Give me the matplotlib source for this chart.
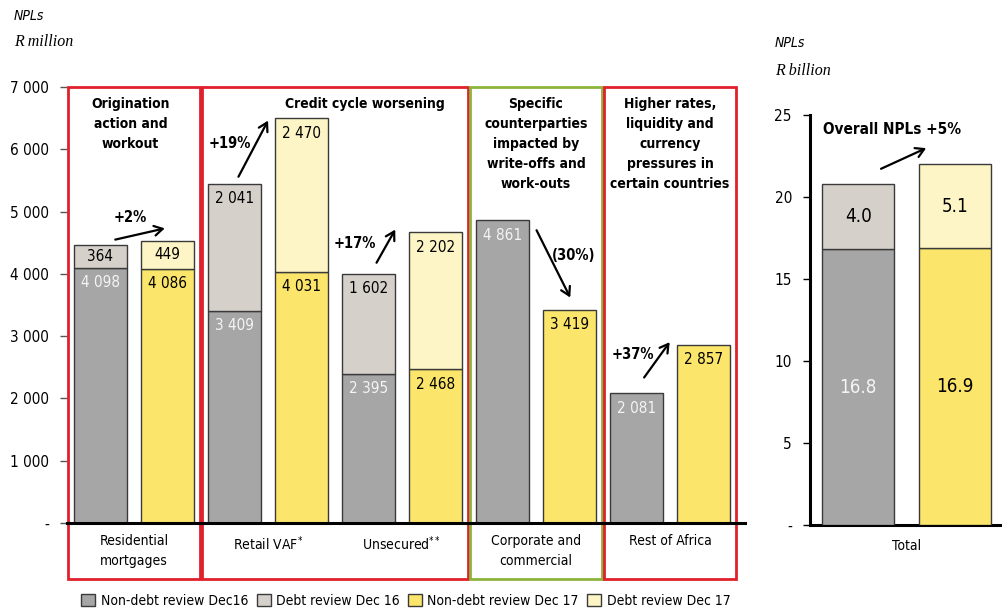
import matplotlib
matplotlib.use("Agg")
import matplotlib.pyplot as plt
from matplotlib.patches import Rectangle, Patch
from matplotlib.ticker import FuncFormatter
from matplotlib import font_manager

# look for a condensed/narrow sans (the reference uses Arial Narrow)
narrow = None
for f in font_manager.fontManager.ttflist:
    if f.name == "Liberation Sans Narrow":
        narrow = ("Liberation Sans Narrow", "normal")
        break
if narrow is None:
    for f in font_manager.fontManager.ttflist:
        if f.name in ("DejaVu Sans", "Noto Sans", "Open Sans", "Roboto") and str(f.stretch) in ("condensed", "semi-condensed", "600", "700", "750"):
            narrow = (f.name, f.stretch)
            break
if narrow is None:
    narrow = ("Roboto", "normal")
plt.rcParams["font.family"] = [narrow[0], "DejaVu Sans"]
plt.rcParams["font.stretch"] = narrow[1]

# ---- data ----
bar_positions = list(range(10))
non_debt = [4098, 4086, 3409, 4031, 2395, 2468, 4861, 3419, 2081, 2857]
debt = [364, 449, 2041, 2470, 1602, 2202, 0, 0, 0, 0]
is_dec17 = [False, True] * 5

categories = ["Residential\nmortgages", "Retail VAF$^{*}$", "Unsecured$^{**}$",
              "Corporate and\ncommercial", "Rest of Africa"]
category_x = [0.5, 2.5, 4.5, 6.5, 8.5]

groups = [(0, 1), (2, 5), (6, 7), (8, 9)]
group_titles = ["Origination\naction and\nworkout", "Credit cycle worsening",
                "Specific\ncounterparties\nimpacted by\nwrite-offs and\nwork-outs",
                "Higher rates,\nliquidity and\ncurrency\npressures in\ncertain countries"]
group_title_x = [0.45, 3.94, 6.5, 8.5]
group_colors = ["#E0202A", "#E0202A", "#8DB33A", "#E0202A"]

# change arrows: (tail x, tail y, head x, head y, label, label x, label y)
changes = [
    (0.18, 4540, 1.0, 4740, "+2%", 0.45, 4900),
    (2.04, 5520, 2.52, 6500, "+19%", 1.93, 6100),
    (4.10, 4140, 4.42, 4750, "+17%", 3.79, 4480),
    (6.49, 4740, 7.03, 3580, "(30%)", 7.06, 4300),
    (8.09, 2300, 8.52, 2940, "+37%", 7.94, 2700),
]

total_x = [0, 1]
total_non_debt = [16.8, 16.9]
total_debt = [4.0, 5.1]
total_change = (0.21, 21.65, 0.73, 23.05, "Overall NPLs +5%", 0.35, 24.1)

C_ND16 = "#A6A6A6"
C_D16 = "#D6D0CA"
C_ND17 = "#FBE56B"
C_D17 = "#FDF5C5"
EDGE = "#3A3A3A"
FS = 10.5


def space_thousands(v, pos=None):
    if v == 0:
        return "-"
    return f"{v:,.0f}".replace(",", " ")


fig = plt.figure(figsize=(10.03, 6.13), dpi=100)

# ---- left chart ----
ax = fig.add_axes([67 / 1003, 1 - 523 / 613, (745 - 67) / 1003, 436 / 613])
width = 0.8
for x, nd, d, d17 in zip(bar_positions, non_debt, debt, is_dec17):
    ax.bar(x, nd, width, color=C_ND17 if d17 else C_ND16, edgecolor=EDGE, linewidth=1, zorder=3)
    if d:
        ax.bar(x, d, width, bottom=nd, color=C_D17 if d17 else C_D16, edgecolor=EDGE, linewidth=1, zorder=3)
    ax.text(x, nd - min(240, nd / 2), space_thousands(nd), ha="center", va="center",
            fontsize=FS + 0.5, color="black" if d17 else "#F4F4F4", zorder=4)
    if d:
        ax.text(x, nd + d - min(240, d / 2), space_thousands(d), ha="center", va="center",
                fontsize=FS + 0.5, color="black", zorder=4)

ax.set_xlim(-0.5, 9.62)
ax.set_ylim(0, 7000)
ax.set_yticks(range(0, 7001, 1000))
ax.yaxis.set_major_formatter(FuncFormatter(space_thousands))
ax.set_xticks([])
ax.tick_params(axis="y", length=5, width=1, color="#555555", labelsize=FS + 0.5, pad=8)
for s in ["top", "right", "left"]:
    ax.spines[s].set_visible(False)
ax.spines["bottom"].set_linewidth(2.2)
ax.spines["bottom"].set_zorder(5)

# group boxes
pad = 0.02
for (a, b), col in zip(groups, group_colors):
    r = Rectangle((a - 0.5 + pad, -900), b - a + 1 - 2 * pad, 7900, fill=False,
                  edgecolor=col, linewidth=2, clip_on=False, zorder=2)
    ax.add_patch(r)
for t, x in zip(group_titles, group_title_x):
    ax.annotate(t, (x, 7000), xytext=(0, -7), textcoords="offset points",
                ha="center", va="top", fontsize=10, fontweight="bold", linespacing=1.55)

for lab, x in zip(categories, category_x):
    ax.annotate(lab, (x, 0), xytext=(0, -8), textcoords="offset points",
                ha="center", va="top", fontsize=10, linespacing=1.5)

for tx, ty, hx, hy, lab, lx, ly in changes:
    ax.annotate("", xy=(hx, hy), xytext=(tx, ty),
                arrowprops=dict(arrowstyle="->,head_length=0.6,head_width=0.35", lw=1.6, color="black"),
                zorder=6)
    ax.text(lx, ly, lab, ha="center", va="center", fontsize=FS, fontweight="bold")

# ---- right chart ----
ax2 = fig.add_axes([810 / 1003, 1 - 525 / 613, 193 / 1003, 410 / 613])
w2 = 0.75
ax2.bar(total_x, total_non_debt, w2, color=[C_ND16, C_ND17], edgecolor=EDGE, linewidth=1, zorder=3)
ax2.bar(total_x, total_debt, w2, bottom=total_non_debt, color=[C_D16, C_D17], edgecolor=EDGE, linewidth=1, zorder=3)
for x, nd, d, col in zip(total_x, total_non_debt, total_debt, ["#F4F4F4", "black"]):
    ax2.text(x, nd / 2, f"{nd:.1f}", ha="center", va="center", fontsize=13.5, color=col)
    ax2.text(x, nd + d / 2, f"{d:.1f}", ha="center", va="center", fontsize=13.5, color="black")
ax2.set_xlim(-0.5, 1.5)
ax2.set_ylim(0, 25)
ax2.set_yticks(range(0, 26, 5))
ax2.yaxis.set_major_formatter(FuncFormatter(lambda v, p: "-" if v == 0 else f"{v:.0f}"))
ax2.set_xticks([0.5])
ax2.set_xticklabels(["Total"])
ax2.tick_params(axis="x", length=0, labelsize=10, pad=10)
ax2.tick_params(axis="y", length=5, width=1, labelsize=FS + 0.5, pad=8)
for s in ["top", "right"]:
    ax2.spines[s].set_visible(False)
ax2.spines["left"].set_linewidth(2.2)
ax2.spines["bottom"].set_linewidth(2.2)
tx, ty, hx, hy, lab, lx, ly = total_change
ax2.annotate("", xy=(hx, hy), xytext=(tx, ty),
             arrowprops=dict(arrowstyle="->,head_length=0.6,head_width=0.35", lw=1.6, color="black"))
ax2.text(lx, ly, lab, ha="center", va="center", fontsize=11, fontweight="bold")

# ---- units ----
fig.text(14 / 1003, 1 - 16 / 613, "NPLs", fontsize=10, style="italic", va="center")
fig.text(14 / 1003, 1 - 42 / 613, "R million", fontsize=11.5, style="italic",
         family=["Liberation Serif", "DejaVu Serif"], va="center")
fig.text(775 / 1003, 1 - 43 / 613, "NPLs", fontsize=10, style="italic", va="center")
fig.text(775 / 1003, 1 - 71 / 613, "R billion", fontsize=11.5, style="italic",
         family=["Liberation Serif", "DejaVu Serif"], va="center")

# ---- legend ----
handles = [Patch(facecolor=c, edgecolor=EDGE, linewidth=1) for c in [C_ND16, C_D16, C_ND17, C_D17]]
labels = ["Non-debt review Dec16", "Debt review Dec 16", "Non-debt review Dec 17", "Debt review Dec 17"]
fig.legend(handles, labels, loc="center", bbox_to_anchor=(406 / 1003, 1 - 601 / 613), ncol=4,
           frameon=False, fontsize=10, handlelength=1.0, handleheight=1.0,
           handletextpad=0.4, columnspacing=0.6, borderaxespad=0)

fig.savefig("out.png", dpi=100)
